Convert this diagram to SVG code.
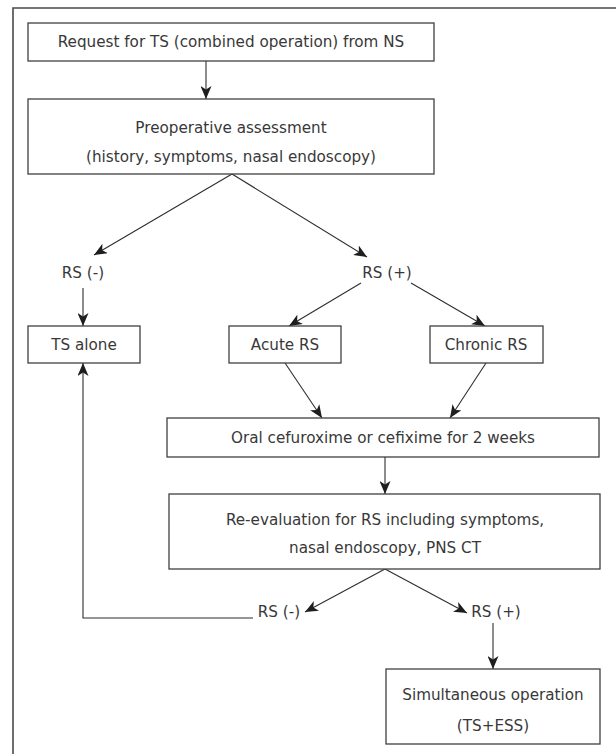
<svg xmlns="http://www.w3.org/2000/svg" width="616" height="754" viewBox="0 0 616 754">
  <defs>
    <style>
      .box { fill: #ffffff; stroke: #404040; stroke-width: 1.3; }
      .frame { fill: none; stroke: #4a4a4a; stroke-width: 1.6; }
      .edge { fill: none; stroke: #2e2e2e; stroke-width: 1.1; }
      .t { font-family: "DejaVu Sans", "Liberation Sans", sans-serif; font-size: 15.2px; fill: #383838; text-anchor: middle; dominant-baseline: central; }
    </style>
    <marker id="arr" markerUnits="userSpaceOnUse" markerWidth="14" markerHeight="11" refX="13" refY="5.5" orient="auto">
      <path d="M0,0 L13,5.5 L0,11 L3.5,5.5 Z" fill="#1e1e1e"/>
    </marker>
  </defs>
  <rect width="616" height="754" fill="#ffffff"/>
  <path class="frame" d="M13,754 L13,8 L616,8"/>

  <g id="connectors">
    <line class="edge" x1="206" y1="61" x2="206" y2="99" marker-end="url(#arr)"/>
    <line class="edge" x1="232" y1="174" x2="94" y2="255" marker-end="url(#arr)"/>
    <line class="edge" x1="232" y1="174" x2="367" y2="257" marker-end="url(#arr)"/>
    <line class="edge" x1="83" y1="288" x2="83" y2="326" marker-end="url(#arr)"/>
    <line class="edge" x1="361" y1="283" x2="289" y2="326" marker-end="url(#arr)"/>
    <line class="edge" x1="411" y1="283" x2="485" y2="326" marker-end="url(#arr)"/>
    <line class="edge" x1="285" y1="363" x2="322" y2="418" marker-end="url(#arr)"/>
    <line class="edge" x1="486" y1="363" x2="450" y2="418" marker-end="url(#arr)"/>
    <line class="edge" x1="385" y1="457" x2="385" y2="494" marker-end="url(#arr)"/>
    <line class="edge" x1="385" y1="569" x2="305" y2="612" marker-end="url(#arr)"/>
    <line class="edge" x1="385" y1="569" x2="467" y2="613" marker-end="url(#arr)"/>
    <polyline class="edge" points="253,618 83,618 83,363" marker-end="url(#arr)"/>
    <line class="edge" x1="493" y1="623" x2="493" y2="669" marker-end="url(#arr)"/>
  </g>

  <g id="request">
    <rect class="box" x="28" y="23" width="406" height="38"/>
    <text class="t" x="231" y="42">Request for TS (combined operation) from NS</text>
  </g>
  <g id="preop">
    <rect class="box" x="28" y="99" width="406" height="75"/>
    <text class="t" x="231" y="128">Preoperative assessment</text>
    <text class="t" x="231" y="157">(history, symptoms, nasal endoscopy)</text>
  </g>
  <g id="rs-neg-1">
    <text class="t" x="83" y="273">RS (-)</text>
  </g>
  <g id="rs-pos-1">
    <text class="t" x="387" y="273">RS (+)</text>
  </g>
  <g id="ts-alone">
    <rect class="box" x="28" y="326" width="112" height="37"/>
    <text class="t" x="84" y="345">TS alone</text>
  </g>
  <g id="acute">
    <rect class="box" x="229" y="326" width="112" height="37"/>
    <text class="t" x="285" y="345">Acute RS</text>
  </g>
  <g id="chronic">
    <rect class="box" x="430" y="326" width="113" height="37"/>
    <text class="t" x="486" y="345">Chronic RS</text>
  </g>
  <g id="oral">
    <rect class="box" x="167" y="418" width="432" height="39"/>
    <text class="t" x="383" y="438">Oral cefuroxime or cefixime for 2 weeks</text>
  </g>
  <g id="reeval">
    <rect class="box" x="169" y="494" width="431" height="75"/>
    <text class="t" x="385" y="520">Re-evaluation for RS including symptoms,</text>
    <text class="t" x="385" y="548">nasal endoscopy, PNS CT</text>
  </g>
  <g id="rs-neg-2">
    <text class="t" x="279" y="612">RS (-)</text>
  </g>
  <g id="rs-pos-2">
    <text class="t" x="496" y="612">RS (+)</text>
  </g>
  <g id="simultaneous">
    <rect class="box" x="386" y="669" width="214" height="75"/>
    <text class="t" x="493" y="695">Simultaneous operation</text>
    <text class="t" x="493" y="726">(TS+ESS)</text>
  </g>
</svg>
